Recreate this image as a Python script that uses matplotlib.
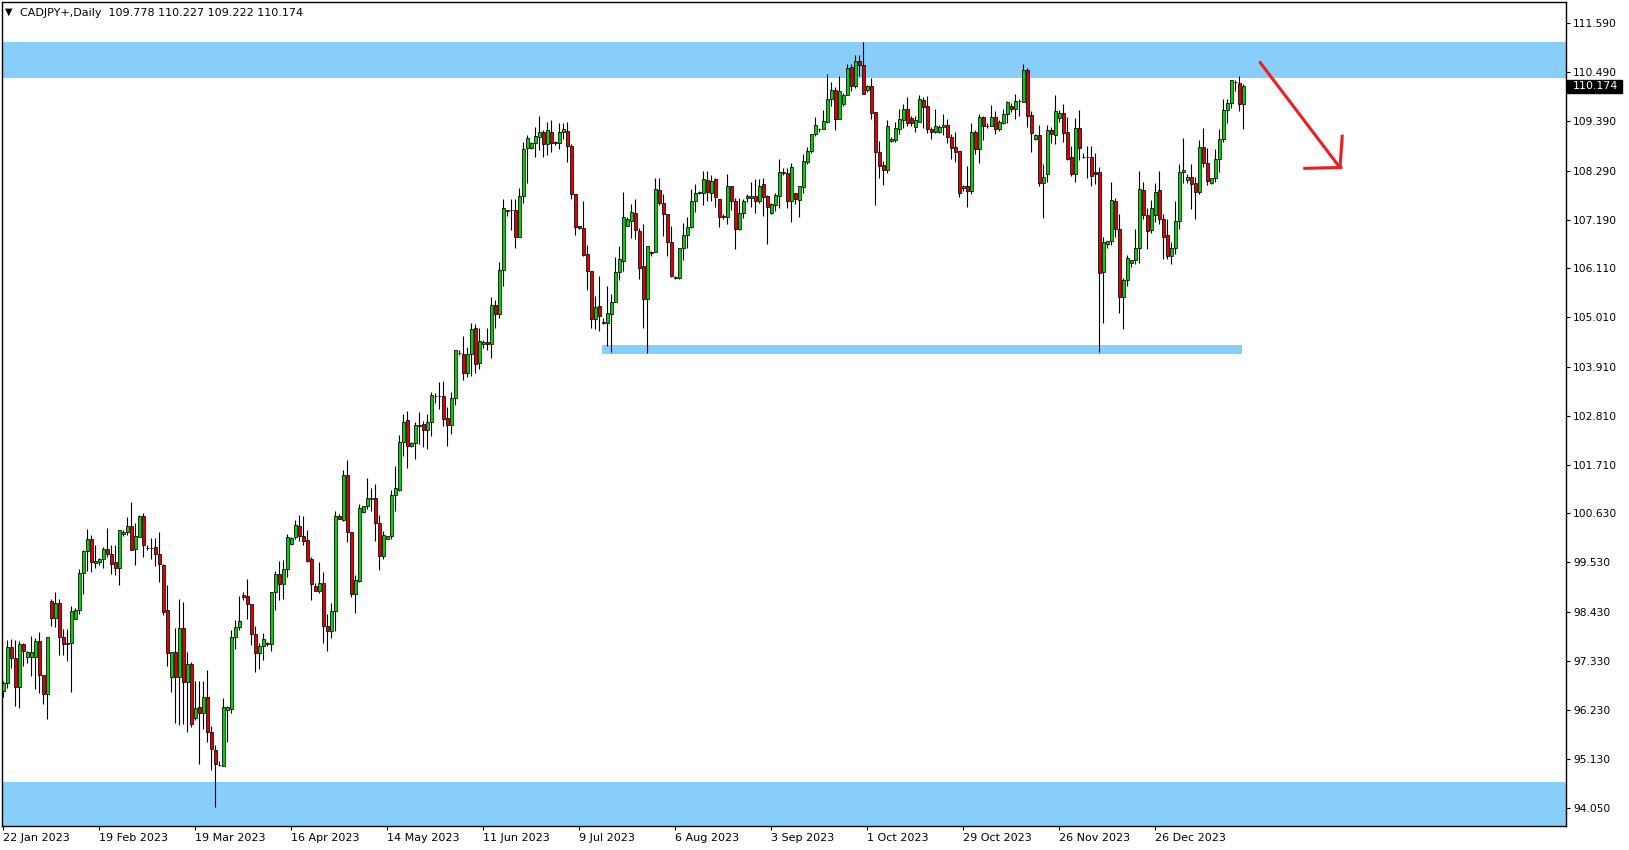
import matplotlib
matplotlib.use("Agg")
import matplotlib.pyplot as plt
from matplotlib.patches import Rectangle
from matplotlib.transforms import blended_transform_factory
import numpy as np

symbol_title = "CADJPY+,Daily  109.778 110.227 109.222 110.174"
last_price = 110.174

# OHLC per daily bar (bar 0 = 22 Jan 2023)
opens = [96.66,96.83,97.63,97.39,96.74,97.71,97.42,97.41,97.41,97.77,97.01,96.58,98.66,98.28,98.62,97.86,97.72,97.74,98.27,98.47,
 99.29,99.79,100.05,99.51,99.53,99.60,99.83,99.72,99.54,99.41,100.16,100.20,100.34,99.84,100.09,100.57,99.86,99.86,99.87,99.71,
 99.47,98.47,96.96,97.52,96.96,98.06,96.85,97.27,96.06,96.29,96.16,96.52,95.75,95.33,95.01,94.99,96.23,96.25,97.86,98.08,
 98.80,98.77,98.59,97.93,97.50,97.66,97.71,97.71,98.88,99.27,99.04,99.38,99.94,100.09,100.34,100.12,100.03,99.61,99.00,98.90,
 99.06,98.11,98.00,98.45,100.57,100.48,101.48,100.20,98.82,99.12,100.66,100.79,100.94,100.98,100.42,99.68,100.06,100.11,101.03,101.15,
 102.22,102.72,102.14,102.19,102.60,102.63,102.48,102.66,103.26,103.25,103.25,102.76,102.61,103.20,104.22,104.19,103.77,104.19,104.76,103.98,
 104.41,104.45,104.41,105.29,105.08,106.07,107.40,107.40,107.41,106.80,107.72,108.80,108.79,108.90,109.05,109.15,108.88,109.16,108.91,108.90,
 109.15,109.18,108.83,107.76,107.05,107.00,106.43,106.05,104.97,105.27,104.90,104.88,105.08,105.35,106.03,106.28,107.06,107.17,107.34,106.94,
 106.16,105.41,106.46,106.46,107.86,107.56,107.31,106.69,105.92,105.90,106.55,106.84,107.02,107.60,107.78,107.80,108.08,107.80,108.10,107.65,
 107.27,107.26,107.95,107.61,106.98,107.34,107.67,107.67,107.72,107.62,107.98,107.72,107.34,107.51,107.73,108.24,108.23,107.60,107.78,107.63,
 107.93,108.49,108.73,109.10,109.23,109.23,109.38,109.88,110.09,109.44,109.78,109.97,110.60,110.19,110.73,110.65,110.09,110.18,109.59,108.70,
 108.42,108.30,108.96,108.97,109.21,109.41,109.67,109.46,109.27,109.38,109.87,109.73,109.22,109.15,109.15,109.26,109.32,109.03,108.82,108.73,
 107.89,107.95,107.84,109.15,108.78,109.48,109.29,109.29,109.48,109.23,109.36,109.55,109.73,109.67,109.85,109.83,110.54,109.53,109.00,109.09,
 108.02,108.21,109.20,109.09,109.47,109.57,109.15,108.59,108.21,109.24,108.60,108.60,108.60,108.25,108.25,106.02,106.64,106.72,107.61,106.98,
 105.46,105.85,106.22,106.29,106.57,107.86,107.30,106.96,107.29,107.86,107.20,106.85,106.39,106.57,107.17,108.25,108.07,108.14,108.02,107.82,
 108.81,108.45,108.02,108.13,108.54,108.99,109.65,109.79,110.26,110.24,109.778]
highs = [96.87,97.80,97.81,97.80,97.78,97.74,97.56,97.89,97.83,97.97,97.01,97.86,98.72,98.87,98.71,98.04,98.04,98.56,98.51,99.38,
 99.81,100.27,100.14,99.93,99.64,99.87,100.31,99.92,99.92,100.26,100.26,100.55,100.88,100.42,100.60,100.63,99.93,100.08,100.08,100.20,
 99.50,99.02,97.52,98.06,98.72,98.65,97.53,97.31,96.88,96.88,96.88,97.12,95.87,95.44,95.09,96.49,96.32,98.02,98.24,98.77,
 98.87,99.17,98.59,98.12,97.72,97.95,97.76,98.88,99.34,99.56,99.59,100.17,100.09,100.48,100.59,100.57,100.26,99.66,99.06,99.54,
 99.32,98.38,98.62,100.68,100.61,101.60,101.82,100.22,99.25,100.83,100.80,101.41,101.19,101.28,100.59,100.23,100.12,101.15,101.69,102.38,
 102.85,102.92,102.23,102.68,102.89,102.69,102.85,103.33,103.31,103.57,103.59,103.01,103.33,104.28,104.27,104.59,104.35,104.88,104.85,104.77,
 104.50,104.77,105.47,105.40,106.24,107.66,107.40,107.66,107.66,107.89,108.92,109.09,108.94,109.26,109.51,109.20,109.37,109.42,108.96,109.35,
 109.35,109.37,108.89,107.76,107.05,107.61,106.63,106.05,105.49,105.94,104.99,105.71,105.53,106.35,106.61,107.81,107.25,107.54,107.65,107.00,
 107.10,106.60,106.49,108.13,108.13,107.76,107.31,107.06,105.93,106.55,107.11,107.26,107.88,107.99,107.83,108.27,108.27,108.19,108.12,107.65,
 107.33,108.21,107.95,107.67,107.67,107.65,107.76,108.04,108.10,108.10,108.13,107.74,107.56,107.80,108.55,108.34,108.34,108.47,107.78,107.95,
 108.65,108.81,109.10,109.48,109.25,109.65,110.45,110.26,110.15,110.41,110.02,110.67,110.67,110.87,110.87,111.17,110.20,110.35,109.61,108.95,
 108.50,109.42,109.05,109.38,109.66,109.78,109.93,109.51,109.50,109.98,109.94,109.96,109.26,109.67,109.31,109.56,109.44,109.10,109.15,108.73,
 107.97,108.39,109.35,109.20,109.56,109.51,109.35,109.76,109.62,109.42,109.66,109.85,109.81,110.00,109.90,110.67,110.58,109.62,109.10,109.31,
 108.44,109.31,109.27,109.98,109.65,109.78,109.48,108.84,109.46,109.65,108.68,108.84,108.84,108.68,108.36,106.80,106.71,108.04,107.67,107.33,
 105.88,106.40,106.29,106.98,108.28,108.04,107.46,107.63,108.02,108.28,107.33,107.21,106.69,107.61,108.44,109.01,108.21,108.44,108.15,108.97,
 109.24,108.79,108.13,108.77,109.21,109.89,109.89,110.32,110.32,110.41,110.227]
lows = [96.53,96.72,97.16,96.33,96.28,97.22,97.29,97.00,96.71,96.62,96.36,96.04,98.11,98.09,97.47,97.47,97.33,96.63,98.26,98.38,
 98.82,99.33,99.32,99.40,99.47,99.40,99.66,99.27,99.25,99.03,100.12,100.14,99.81,99.48,100.09,99.66,99.81,99.60,99.46,99.09,
 98.36,97.22,96.63,95.95,95.90,95.91,95.73,95.86,96.00,95.03,95.80,95.52,94.90,94.07,94.97,94.99,95.51,96.16,97.59,98.02,
 98.69,98.26,97.69,97.09,97.15,97.35,97.66,97.54,98.47,98.68,98.71,99.20,99.92,100.05,100.02,99.93,99.53,98.68,98.90,98.84,
 97.74,97.56,97.83,98.00,100.49,100.46,99.99,98.75,98.39,99.09,100.63,100.72,100.67,100.02,99.36,99.61,100.06,100.06,100.69,101.13,
 101.92,101.65,102.10,101.85,102.17,102.12,102.07,102.36,103.10,102.95,102.59,102.14,102.40,103.05,104.16,103.60,103.68,103.70,103.76,103.85,
 104.32,104.28,104.11,104.76,105.00,105.72,107.28,106.96,106.55,106.80,107.57,108.01,108.77,108.60,108.74,108.60,108.63,108.71,108.86,108.77,
 108.99,108.49,107.66,106.85,106.98,106.37,105.62,104.76,104.74,104.71,104.86,104.37,104.24,105.35,105.85,106.05,107.06,106.78,106.77,105.87,
 104.78,104.21,106.37,106.46,107.51,106.83,106.37,105.92,105.86,105.86,106.29,106.55,107.00,107.37,107.76,107.51,107.62,107.60,107.48,107.02,
 107.20,107.09,107.41,106.53,106.96,107.22,107.58,107.48,107.34,107.56,107.28,106.66,107.32,107.39,107.45,108.19,107.45,107.15,107.54,107.26,
 107.80,108.44,108.69,109.07,109.16,109.21,109.36,109.73,109.20,109.44,109.73,109.97,110.08,110.14,110.41,110.00,110.05,109.44,107.52,108.13,
 107.97,108.23,108.94,108.92,109.11,109.25,109.29,109.29,109.16,109.38,109.25,109.14,108.99,109.14,109.12,109.09,108.90,108.55,108.49,107.71,
 107.84,107.48,107.77,108.66,108.47,108.97,109.25,109.29,109.11,109.17,109.33,109.35,109.61,109.45,109.50,109.83,109.27,108.71,108.97,107.95,
 107.22,108.04,108.91,108.89,109.38,108.94,108.53,108.16,108.04,108.53,108.58,108.13,107.95,107.98,104.24,104.88,106.55,106.63,106.81,105.10,
 104.74,105.70,106.14,106.20,106.22,107.20,106.54,106.89,107.14,107.10,106.31,106.31,106.20,106.43,106.98,108.02,108.02,107.43,107.21,107.76,
 108.36,107.97,107.99,108.03,108.25,108.92,109.36,109.70,110.08,109.63,109.222]
closes = [96.83,97.63,97.39,96.74,97.71,97.56,97.53,97.53,97.77,97.01,96.60,97.86,98.28,98.62,97.86,97.70,97.71,98.45,98.47,99.29,
 99.79,100.05,99.53,99.56,99.61,99.83,99.72,99.49,99.41,100.26,100.22,100.34,99.81,100.12,100.57,99.93,99.85,99.86,99.71,99.49,
 98.43,97.50,97.52,96.96,98.06,96.85,97.27,95.91,96.28,96.16,96.52,95.75,95.35,95.03,95.00,96.29,96.29,97.86,98.08,98.21,
 98.75,98.59,97.93,97.50,97.66,97.81,97.72,98.88,99.27,99.04,99.38,100.09,100.08,100.36,100.11,100.02,99.57,99.04,98.90,99.06,
 98.12,98.00,98.45,100.57,100.49,101.48,100.20,98.82,99.14,100.74,100.79,100.96,100.98,100.42,99.68,100.14,100.12,101.03,101.19,102.22,
 102.66,102.14,102.19,102.60,102.57,102.48,102.66,103.27,103.26,103.25,102.74,102.61,103.20,104.28,104.21,103.77,104.19,104.74,103.96,104.48,
 104.45,104.41,105.29,105.08,106.07,107.45,107.39,107.41,106.80,107.72,108.77,109.01,108.90,109.06,109.15,108.88,109.20,108.90,108.92,109.15,
 109.21,108.84,107.76,107.02,107.00,106.40,106.05,104.97,105.25,105.03,104.89,105.10,105.35,106.02,106.31,107.25,107.21,107.36,106.96,106.12,
 105.41,106.60,106.44,107.87,107.57,107.31,106.70,105.94,105.90,106.55,106.84,107.04,107.60,107.78,107.82,108.10,107.82,108.06,107.69,107.26,
 107.26,107.95,107.60,106.98,107.34,107.60,107.72,107.72,107.62,107.95,107.71,107.47,107.54,107.74,108.26,108.25,107.60,108.37,107.65,107.95,
 108.50,108.73,109.10,109.30,109.23,109.40,109.88,110.09,109.44,110.07,109.98,110.58,110.19,110.73,110.64,110.00,110.17,109.57,108.71,108.40,
 108.30,109.29,109.00,109.24,109.44,109.67,109.36,109.36,109.42,109.88,109.72,109.21,109.15,109.29,109.26,109.32,109.03,108.80,108.71,107.80,
 107.95,107.84,109.15,108.78,109.48,109.29,109.28,109.48,109.21,109.38,109.56,109.82,109.67,109.85,109.84,110.54,109.51,109.14,109.09,108.02,
 108.15,109.20,109.10,109.62,109.57,109.12,108.56,108.21,109.24,108.80,108.60,108.59,108.18,108.21,105.99,106.69,106.71,107.63,106.98,105.47,
 105.85,106.33,106.29,106.57,107.88,107.29,106.95,107.45,107.81,107.20,106.80,106.39,106.57,107.16,108.25,108.30,108.15,107.98,107.82,108.81,
 108.47,108.06,108.12,108.55,108.99,109.65,109.79,110.32,110.27,109.77,110.174]

date_labels = ["22 Jan 2023", "19 Feb 2023", "19 Mar 2023", "16 Apr 2023", "14 May 2023", "11 Jun 2023",
               "9 Jul 2023", "6 Aug 2023", "3 Sep 2023", "1 Oct 2023", "29 Oct 2023", "26 Nov 2023", "26 Dec 2023"]
price_ticks = [111.590, 110.490, 109.390, 108.290, 107.190, 106.110, 105.010, 103.910, 102.810,
               101.710, 100.630, 99.530, 98.430, 97.330, 96.230, 95.130, 94.050]

# zones (price levels)
resistance_zone = (110.37, 111.17)
support_zone = (93.0, 94.63)
mid_zone = (104.19, 104.39)

W, H = 1629, 850
fig = plt.figure(figsize=(W / 100, H / 100), dpi=100, facecolor="white")
ax = fig.add_axes([2 / W, 1 - 826 / H, 1564 / W, 824 / H])
ax.set_facecolor("white")

o = np.array(opens); h = np.array(highs); l = np.array(lows); c = np.array(closes)
x = np.arange(len(o))
ax.set_xlim(-0.325, 390.7)
ax.set_ylim(93.638, 112.059)

zone_col = "#87CEFA"
ax.axhspan(*resistance_zone, color=zone_col, lw=0, zorder=0)
ax.axhspan(*support_zone, color=zone_col, lw=0, zorder=0)
ax.add_patch(Rectangle((149.8, mid_zone[0]), 160.0, mid_zone[1] - mid_zone[0],
                       color=zone_col, lw=0, zorder=0))

ax.vlines(x, l, h, color="black", lw=0.8, zorder=2)
up = c >= o
body_bottom = np.minimum(o, c)
body_h = np.abs(c - o)
ax.bar(x[up], body_h[up], bottom=body_bottom[up], width=0.7, color="#00d200",
       edgecolor="black", linewidth=0.55, zorder=3)
ax.bar(x[~up], body_h[~up], bottom=body_bottom[~up], width=0.7, color="#e00000",
       edgecolor="black", linewidth=0.55, zorder=3)

# red hand-drawn arrow
arrow_col = "#ee1c24"
ax.plot([314.2, 333.9], [110.71, 108.39], color=arrow_col, lw=2.2, solid_capstyle="round", zorder=4)
ax.plot([334.75, 334.2], [109.06, 108.37], color=arrow_col, lw=2.2, zorder=4)
ax.plot([325.4, 334.4], [108.34, 108.36], color=arrow_col, lw=2.2, zorder=4)

# axes styling
for s in ax.spines.values():
    s.set_color("black"); s.set_linewidth(1.0)
ax.yaxis.tick_right()
ax.set_yticks(price_ticks)
ax.set_yticklabels([f"{v:.3f}" for v in price_ticks], fontsize=7.7)
ax.set_xticks(np.arange(len(date_labels)) * 24)
ax.set_xticklabels(date_labels, fontsize=8, ha="left")
ax.tick_params(axis="y", direction="out", length=3, width=0.8, pad=2, colors="black")
ax.tick_params(axis="x", direction="out", length=3, width=0.8, pad=2, colors="black")

# last price box
tr = blended_transform_factory(ax.transAxes, ax.transData)
ax.add_patch(Rectangle((1.0006, last_price - 0.15), 55 / 1564, 0.30, transform=tr,
                       color="black", clip_on=False, zorder=5))
ax.text(1.0045, last_price, f"{last_price:.3f}", transform=tr, color="white",
        fontsize=7.9, va="center", ha="left", clip_on=False, zorder=6)

fig.text(5 / W, 1 - 12 / H, "\u25BC", fontsize=7, va="center", ha="left")
fig.text(20 / W, 1 - 12.5 / H, symbol_title, fontsize=8, va="center", ha="left")

fig.savefig("out.png", dpi=100, facecolor="white")
